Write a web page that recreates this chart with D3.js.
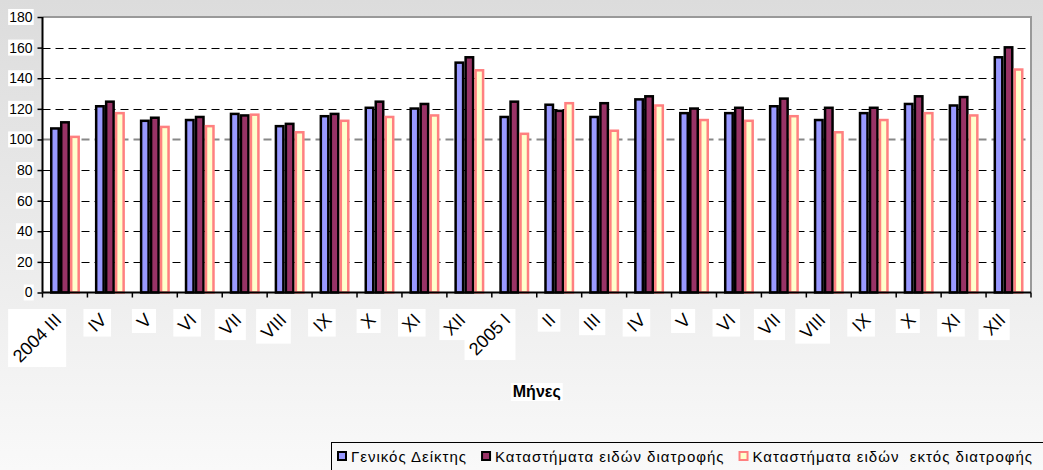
<!DOCTYPE html>
<html><head><meta charset="utf-8">
<script src="https://cdn.jsdelivr.net/npm/d3@7"></script>
<style>
html,body{margin:0;padding:0;overflow:hidden;}
#wrap{position:relative;width:1043px;height:470px;}
svg{display:block;font-family:Arial,"Liberation Sans",sans-serif;}
.xl{position:absolute;left:0;top:0;font-family:Arial,"Liberation Sans",sans-serif;font-size:18px;color:#000;white-space:nowrap;transform-origin:100% 0;line-height:20px;padding:0 1px;}
</style></head>
<body>
<div id="wrap">
<svg id="chart" width="1043" height="470"></svg>
</div>
<script>
const categories = ["2004 III","IV","V","VI","VII","VIII","IX","X","XI","XII","2005 I","II","III","IV ","V ","VI ","VII ","VIII ","IX ","X ","XI ","XII "];
const seriesNames = ["Γενικός Δείκτης","Καταστήματα ειδών διατροφής","Καταστήματα ειδών  εκτός διατροφής"];
const generalIndex = [108,122.5,113,113.5,117.5,109.5,116,121.5,121,151,115.5,123.5,115.5,127,118,118,122.5,113.5,118,124,123,154.5];
const foodStores = [112,125.5,115,115.5,116.5,111,117.5,125.5,124,154.5,125.5,119.5,124.5,129,121,121.5,127.5,121.5,121.5,129,128.5,161];
const nonFoodStores = [102.5,118,109,109.5,117,105.5,113,115.5,116.5,146,104.5,124.5,106.5,123,113.5,113,116,105.5,113.5,118,116.5,146.5];
const yTicks = [0,20,40,60,80,100,120,140,160,180];
const xTitle = "Μήνες";

const seriesValues = [generalIndex, foodStores, nonFoodStores];
const fills = ["#9999FF","#993366","#FFFFCC"];
const strokes = ["#000000","#000000","#FF8080"];

const svg = d3.select("#chart");
const W = 1043, H = 470;
const m = {left:42.5, right:12, top:17, bottom:177.5};

const defs = svg.append("defs");
const grad = defs.append("linearGradient").attr("id","bg").attr("x1",0).attr("y1",0).attr("x2",0).attr("y2",1);
grad.append("stop").attr("offset","0%").attr("stop-color","#dcdcdc");
grad.append("stop").attr("offset","100%").attr("stop-color","#f9f9f9");
svg.append("rect").attr("width",W).attr("height",H).attr("fill","url(#bg)");

const x0 = d3.scaleBand().domain(categories).range([m.left, W - m.right]).padding(0);
const x1 = d3.scaleBand().domain([0,1,2]).range([0, x0.bandwidth()]).paddingInner(0).paddingOuter(0.75);
const y = d3.scaleLinear().domain([0,180]).range([H - m.bottom, m.top]);

svg.append("rect").attr("x",m.left).attr("y",m.top).attr("width",W-m.right-m.left).attr("height",y(0)-m.top).attr("fill","#fff");

svg.append("g").selectAll("line").data(yTicks.filter(d=>d>0 && d<180)).join("line")
  .attr("x1",m.left).attr("x2",W-m.right)
  .attr("y1",d=>Math.round(y(d))+0.5).attr("y2",d=>Math.round(y(d))+0.5)
  .attr("stroke",d=>d===100?"#888":"#000")
  .attr("stroke-width",d=>d===100?2:1)
  .attr("stroke-dasharray","8,5");

svg.append("path").attr("d",`M${m.left},${m.top}H${W-m.right}V${y(0)}`).attr("fill","none").attr("stroke","#999").attr("stroke-width",2);

const g = svg.append("g");
categories.forEach((c,i)=>{
  seriesValues.forEach((vals,s)=>{
    const v = vals[i];
    g.append("rect")
      .attr("x", x0(c)+x1(s)+1.25)
      .attr("y", y(v)+1.25)
      .attr("width", x1.bandwidth()-2.5)
      .attr("height", y(0)-y(v)-1.25)
      .attr("fill", fills[s])
      .attr("stroke", strokes[s])
      .attr("stroke-width", 2.5);
  });
});

const labelBoxes = svg.append("g");
function addBox(node, padX){
  const r = node.getBoundingClientRect();
  labelBoxes.append("rect").attr("x",r.left-padX).attr("y",r.top).attr("width",r.width+2*padX).attr("height",r.height).attr("fill","#fff");
}

const yAxis = d3.axisLeft(y).tickValues(yTicks).tickSize(5).tickPadding(5);
const ya = svg.append("g").attr("transform",`translate(${m.left},0)`).call(yAxis);
ya.select(".domain").attr("stroke","#000").attr("stroke-width",2).attr("d",`M0,${m.top}V${y(0)}`);
ya.selectAll(".tick line").attr("stroke","#000").attr("stroke-width",1.5);
ya.selectAll(".tick text").attr("font-size",14).attr("fill","#000").attr("font-family","Arial,'Liberation Sans',sans-serif");
ya.selectAll(".tick text").each(function(){ addBox(this, 1); });

const xAxis = d3.axisBottom(x0).tickSize(0).tickFormat("");
const xa = svg.append("g").attr("transform",`translate(0,${y(0)})`).call(xAxis);
xa.select(".domain").attr("stroke","#000").attr("stroke-width",2).attr("d",`M${m.left},0H${W-m.right}`);
xa.append("g").selectAll("line").data(d3.range(categories.length+1)).join("line")
  .attr("x1",i=> i<categories.length ? x0(categories[i]) : W-m.right)
  .attr("x2",i=> i<categories.length ? x0(categories[i]) : W-m.right)
  .attr("y1",0).attr("y2",5).attr("stroke","#000").attr("stroke-width",1.5);

// rotated x labels (HTML, CSS rotate) with axis-aligned white boxes
const wrap = d3.select("#wrap");
categories.forEach((c,i)=>{
  const cx = x0(c) + x0.bandwidth()/2;
  const d = wrap.append("div").attr("class","xl").text(c.trim());
  const w = d.node().offsetWidth;
  d.style("left",(cx - 13 - w)+"px").style("top",(y(0)+16.5)+"px").style("transform","rotate(-45deg)");
  const r = d.node().getBoundingClientRect();
  labelBoxes.append("rect").attr("x",r.left).attr("y",r.top).attr("width",r.width).attr("height",r.height).attr("fill","#fff");
});
ya.raise();

const t = svg.append("text").attr("x",(m.left+W-m.right)/2).attr("y",397).attr("text-anchor","middle")
  .attr("font-size",16).attr("font-weight","bold").attr("fill","#000").text(xTitle);
addBox(t.node(), 2);
t.raise();

const leg = svg.append("g");
leg.append("rect").attr("x",331.5).attr("y",442.5).attr("width",W).attr("height",40).attr("fill","none").attr("stroke","#000").attr("stroke-width",1);
let lx = 337;
seriesNames.forEach((name,s)=>{
  leg.append("rect").attr("x",lx+1).attr("y",452).attr("width",8).attr("height",8)
    .attr("fill",fills[s]).attr("stroke",strokes[s]).attr("stroke-width",2);
  const tx = leg.append("text").attr("x",lx+14).attr("y",462).attr("font-size",15).attr("letter-spacing",1).attr("fill","#000")
    .attr("xml:space","preserve").style("white-space","pre").text(name);
  lx = lx + 14 + tx.node().getComputedTextLength() + 14;
});
</script>
</body></html>
